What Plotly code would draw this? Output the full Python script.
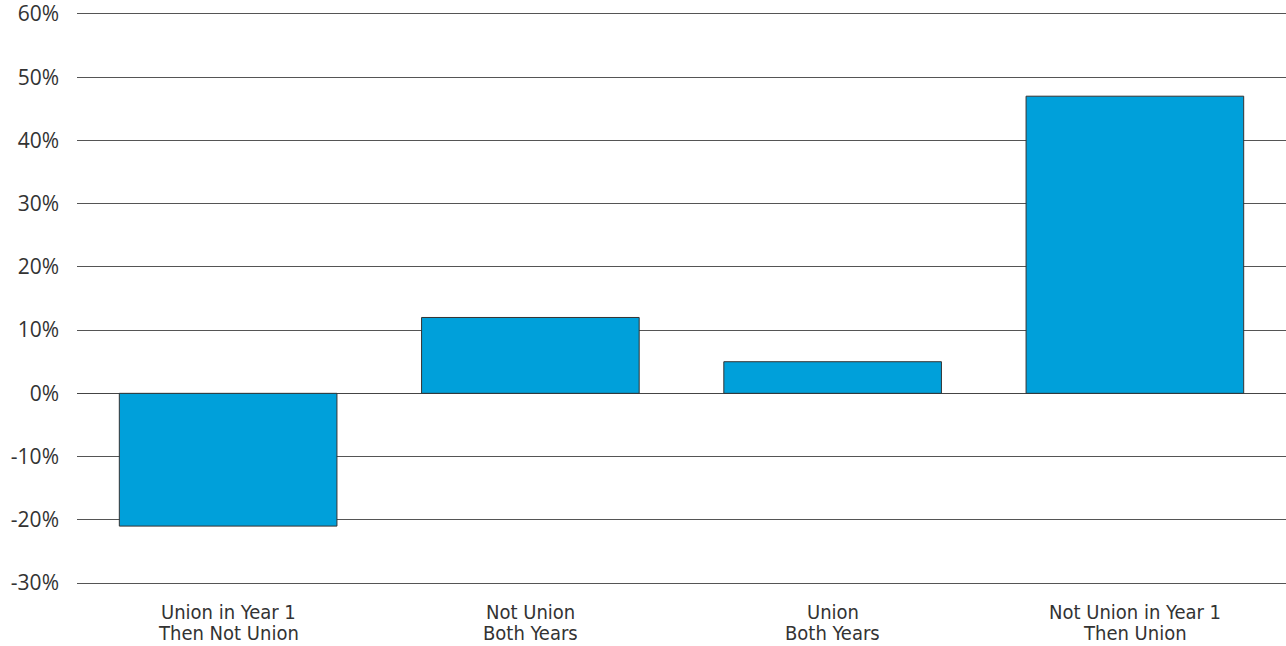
import plotly.graph_objects as go

categories = ["Union in Year 1 Then Not Union", "Not Union Both Years",
              "Union Both Years", "Not Union in Year 1 Then Union"]
label_line1 = ["Union in Year 1", "Not Union", "Union", "Not Union in Year 1"]
label_line2 = ["Then Not Union", "Both Years", "Both Years", "Then Union"]
values = [-21, 12, 5, 47]
tick_vals = [-30, -20, -10, 0, 10, 20, 30, 40, 50, 60]
tick_text = ["-30%", "-20%", "-10%", "0%", "10%", "20%", "30%", "40%", "50%", "60%"]

fig = go.Figure(go.Bar(
    x=categories, y=values,
    marker=dict(color="#00A0DA", line=dict(color="#333333", width=1)),
    width=0.72,
))

xfont = dict(size=20, family="DejaVu Sans Condensed, Roboto Condensed, Roboto", color="#333333")
annotations = []
for cat, l1, l2 in zip(categories, label_line1, label_line2):
    annotations.append(dict(x=cat, xref="x", y=0, yref="paper", text=l1, showarrow=False,
                            yanchor="middle", xanchor="center", yshift=-29, font=xfont,
                            height=20, borderpad=0))
    annotations.append(dict(x=cat, xref="x", y=0, yref="paper", text=l2, showarrow=False,
                            yanchor="middle", xanchor="center", yshift=-50, font=xfont,
                            height=20, borderpad=0))

fig.update_layout(
    width=1286, height=646,
    margin=dict(l=77, r=0, t=14, b=63),
    paper_bgcolor="white", plot_bgcolor="white",
    showlegend=False,
    font=dict(family="Open Sans", color="#333333", size=16),
    annotations=annotations,
)
fig.update_yaxes(
    range=[-30, 60], tickvals=tick_vals, ticktext=tick_text,
    showgrid=True, gridcolor="#555555", gridwidth=1,
    zeroline=True, zerolinecolor="#444444", zerolinewidth=1,
    ticklabelstandoff=17, tickfont=dict(size=21, family="Open Sans", color="#333333"),
    ticklabeloverflow="allow",
    automargin=False,
)
fig.update_xaxes(
    showgrid=False, showticklabels=False,
    showline=True, mirror=True, linecolor="#555555", linewidth=1,
    automargin=False,
)

fig.write_html("out.html", config={"displayModeBar": False},
               post_script="document.body.style.margin='0';document.body.style.overflow='hidden';")
